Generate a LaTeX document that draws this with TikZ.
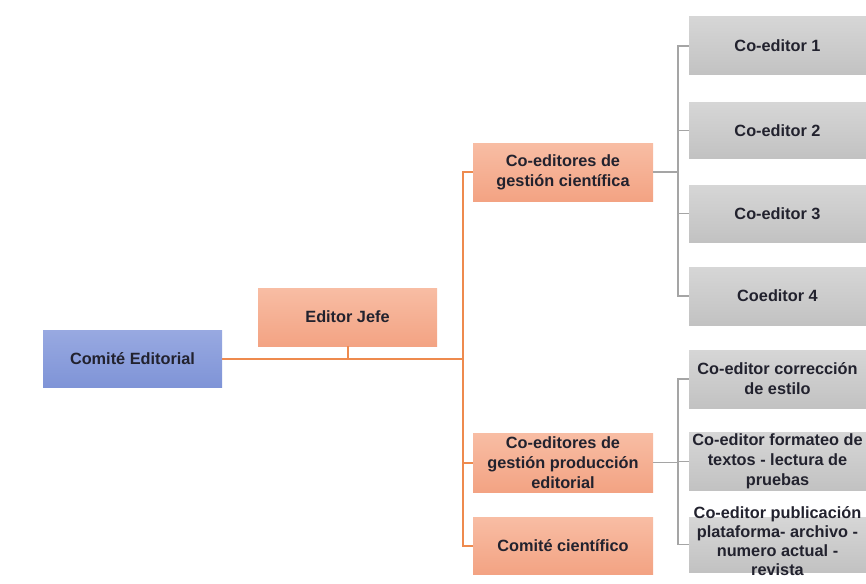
\documentclass[tikz,border=0pt]{standalone}
\usepackage{fontspec}
\setmainfont{Liberation Sans}
\usepackage{xcolor}
\definecolor{blueA}{HTML}{98A9E1}
\definecolor{blueB}{HTML}{7F94D7}
\definecolor{salmonA}{HTML}{F8BDA4}
\definecolor{salmonB}{HTML}{F3A383}
\definecolor{grayA}{HTML}{D6D6D6}
\definecolor{grayB}{HTML}{C2C2C2}
\definecolor{oline}{HTML}{EE8A4E}
\definecolor{gline}{HTML}{A5A5A5}
\definecolor{txt}{HTML}{22222E}

\begin{document}
\begin{tikzpicture}[%
  x=1pt, y=-1pt,
  box/.style={inner sep=1pt, align=center, text=txt,
    font=\fontsize{16.3}{20}\selectfont\bfseries},
  bluebox/.style={box, top color=blueA, bottom color=blueB},
  salmonbox/.style={box, top color=salmonA, bottom color=salmonB},
  graybox/.style={box, top color=grayA, bottom color=grayB},
  orangeline/.style={draw=oline, line width=2pt},
  grayline/.style={draw=gline, line width=1.5pt}]
\useasboundingbox (0,0) rectangle (866,583);

\node[bluebox, minimum width=179pt, minimum height=57pt] (comite) at (132.5,358.5) {Comité Editorial};
\node[salmonbox, minimum width=179pt, minimum height=58pt] (jefe) at (347.5,317) {Editor Jefe};
\node[salmonbox, minimum width=180pt, minimum height=58pt] (cientifica) at (563,172) {Co-editores de\\gestión científica};
\node[salmonbox, minimum width=180pt, minimum height=59pt] (produccion) at (563,462.5) {Co-editores de\\gestión producción\\editorial};
\node[salmonbox, minimum width=180pt, minimum height=57pt] (cientifico) at (563,545.5) {Comité científico};

\node[graybox, minimum width=177pt, minimum height=58pt] (ed1) at (777.5,46) {Co-editor 1};
\node[graybox, minimum width=177pt, minimum height=55pt] (ed2) at (777.5,130.5) {Co-editor 2};
\node[graybox, minimum width=177pt, minimum height=57pt] (ed3) at (777.5,213.5) {Co-editor 3};
\node[graybox, minimum width=177pt, minimum height=58pt] (ed4) at (777.5,296) {Coeditor 4};
\node[graybox, minimum width=177pt, minimum height=58pt] (estilo) at (777.5,379) {Co-editor corrección\\de estilo};
\node[graybox, minimum width=177pt, minimum height=57pt] (formateo) at (777.5,461.5) {Co-editor formateo de\\textos - lectura de\\pruebas};
\node[graybox, minimum width=177pt, minimum height=55pt] (publicacion) at (777.5,544.5) {};
\node[box, font=\fontsize{16.3}{19}\selectfont\bfseries] (publicaciontext) at (777.5,541) {Co-editor publicación\\plataforma- archivo -\\numero actual -\\revista};

\coordinate (bus) at (463,358);
\coordinate (upper) at (678,173);
\coordinate (lower) at (678,465);

\draw[orangeline] (comite.east) -- (comite.east -| bus);
\draw[orangeline] (jefe.south) -- (jefe.south |- comite.east);
\draw[orangeline] (cientifica.west) -| (bus) |- (cientifico.west);
\draw[orangeline] (produccion.west) -- (produccion.west -| bus);

\draw[grayline] (cientifica.east) -- (cientifica.east -| upper);
\draw[grayline] (ed1.west) -| (upper) |- (ed4.west);
\draw[grayline] (ed2.west) -- (ed2.west -| upper);
\draw[grayline] (ed3.west) -- (ed3.west -| upper);

\draw[grayline] (produccion.east) -- (produccion.east -| lower);
\draw[grayline] (estilo.west) -| (lower) |- (publicacion.west);
\draw[grayline] (formateo.west) -- (formateo.west -| lower);
\end{tikzpicture}
\end{document}
